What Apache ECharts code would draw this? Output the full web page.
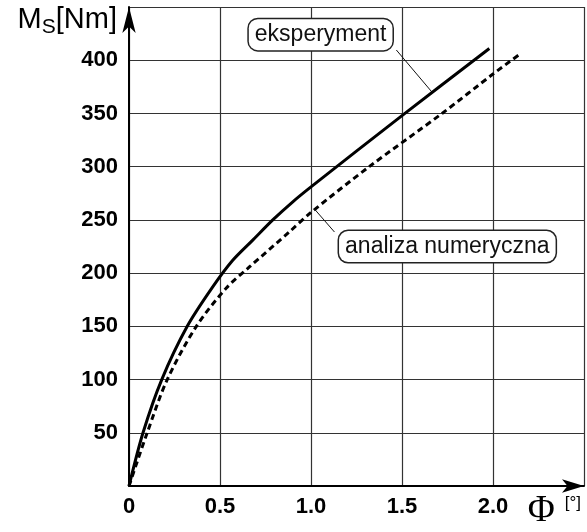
<!DOCTYPE html>
<html>
<head>
<meta charset="utf-8">
<script src="https://cdn.jsdelivr.net/npm/echarts@6/dist/echarts.min.js"></script>
<style>
html, body { margin: 0; padding: 0; background: #fff; }
#chart { width: 587px; height: 532px; }
</style>
</head>
<body>
<div id="chart"></div>
<script>
// kąt skręcenia [°] i moment [Nm]
var expPhi = [0, 0.077, 0.18, 0.32, 0.46, 0.57, 0.68, 0.79, 0.9, 1.0, 1.5, 1.98];
var expMs  = [0, 50, 100, 150, 187, 212, 231, 250, 267, 281, 348, 411];
var numPhi = [0, 0.10, 0.21, 0.37, 0.535, 0.663, 0.883, 1.0, 1.32, 1.72, 2.0, 2.15];
var numMs  = [0, 50, 100, 150, 186, 206, 239, 257, 300, 350, 387, 406];

var xTickLabels = ['0', '0.5', '1.0', '1.5', '2.0', ''];
var yTickLabels = ['', '50', '100', '150', '200', '250', '300', '350', '400', ''];

// opisy krzywych: środek ramki i odnośnik (w jednostkach wykresu)
var expNote = { text: 'eksperyment', box: [1.053, 424], from: [1.469, 409.6], to: [1.665, 370] };
var numNote = { text: 'analiza numeryczna', box: [1.749, 225], from: [1.129, 238.6], to: [1.02, 260] };

function pairs(xs, ys) {
  return xs.map(function (x, i) { return [x, ys[i]]; });
}

function noteMarks(note) {
  return {
    markPoint: {
      symbol: 'circle',
      symbolSize: 0,
      silent: true,
      data: [{ coord: note.box, value: note.text }],
      label: {
        show: true,
        position: 'inside',
        formatter: note.text,
        fontFamily: 'Liberation Sans, Arial, sans-serif',
        fontSize: 23,
        color: '#111',
        backgroundColor: '#fff',
        borderColor: '#222',
        borderWidth: 1.5,
        borderRadius: 9,
        padding: [5, 6, 3, 6]
      }
    },
    markLine: {
      symbol: 'none',
      silent: true,
      label: { show: false },
      lineStyle: { color: '#111', width: 1, type: 'solid' },
      data: [[{ coord: note.from }, { coord: note.to }]]
    }
  };
}

var chart = echarts.init(document.getElementById('chart'), null, { renderer: 'canvas' });

var expSeries = {
  name: 'eksperyment',
  type: 'line',
  data: pairs(expPhi, expMs),
  showSymbol: false,
  smooth: 0.3,
  lineStyle: { color: '#000', width: 3 },
  z: 5
};
Object.assign(expSeries, noteMarks(expNote));

var numSeries = {
  name: 'analiza numeryczna',
  type: 'line',
  data: pairs(numPhi, numMs),
  showSymbol: false,
  smooth: 0.3,
  lineStyle: { color: '#000', width: 3, type: [6, 4] },
  z: 4
};
Object.assign(numSeries, noteMarks(numNote));

chart.setOption({
  animation: false,
  backgroundColor: '#fff',
  grid: { left: 129, right: 3, top: 7, bottom: 46, containLabel: false, outerBoundsMode: 'none' },
  xAxis: {
    type: 'value',
    min: 0,
    max: 2.5,
    interval: 0.5,
    name: '{phi|Φ}{u|[°]}',
    nameLocation: 'end',
    nameGap: -3,
    nameTextStyle: {
      align: 'right',
      verticalAlign: 'top',
      padding: [7, 0, 0, 0],
      rich: {
        phi: { fontFamily: 'Liberation Serif, Times New Roman, serif', fontSize: 37, color: '#000', verticalAlign: 'top' },
        u: { fontFamily: 'Liberation Sans, Arial, sans-serif', fontSize: 17, color: '#000', padding: [0, 0, 16, 10] }
      }
    },
    axisLine: { show: true, lineStyle: { color: '#000', width: 2 }, symbol: ['none', 'arrow'], symbolSize: [10, 22] },
    axisTick: { show: false },
    axisLabel: {
      margin: 10,
      color: '#000',
      fontFamily: 'Liberation Sans, Arial, sans-serif',
      fontWeight: 'bold',
      fontSize: 22,
      formatter: function (v) { return xTickLabels[Math.round(v / 0.5)]; }
    },
    splitLine: { show: true, lineStyle: { color: '#333', width: 1.2 } }
  },
  yAxis: {
    type: 'value',
    min: 0,
    max: 450,
    interval: 50,
    name: '{m|M}{s|S}{m|[Nm]}',
    nameLocation: 'end',
    nameGap: -13,
    nameTextStyle: {
      align: 'right',
      verticalAlign: 'middle',
      padding: [0, 12, 0, 0],
      rich: {
        m: { fontFamily: 'Liberation Sans, Arial, sans-serif', fontSize: 29, color: '#000', lineHeight: 30 },
        s: { fontFamily: 'Liberation Sans, Arial, sans-serif', fontSize: 21, color: '#000', lineHeight: 30, padding: [14, 0, 0, 0] }
      }
    },
    axisLine: { show: true, lineStyle: { color: '#000', width: 2 }, symbol: ['none', 'arrow'], symbolSize: [10, 26] },
    axisTick: { show: false },
    axisLabel: {
      margin: 11,
      color: '#000',
      fontFamily: 'Liberation Sans, Arial, sans-serif',
      fontWeight: 'bold',
      fontSize: 22,
      formatter: function (v) { return yTickLabels[Math.round(v / 50)]; }
    },
    splitLine: { show: true, lineStyle: { color: '#333', width: 1.2 } }
  },
  series: [expSeries, numSeries]
});
</script>
</body>
</html>
